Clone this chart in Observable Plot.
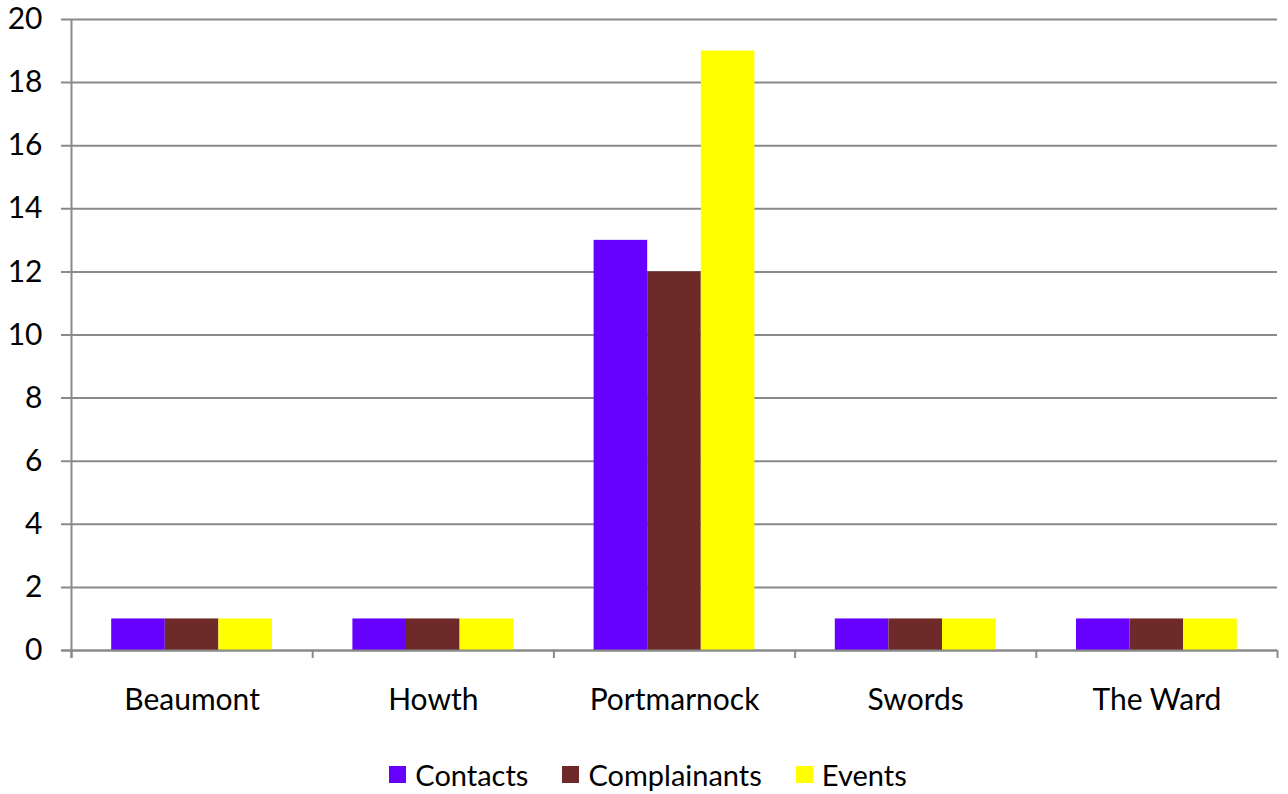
<!DOCTYPE html>
<html><head><meta charset="utf-8">
<script src="https://cdn.jsdelivr.net/npm/d3@7"></script>
<script src="https://cdn.jsdelivr.net/npm/@observablehq/plot@0.6"></script>
<style>
body{margin:0;background:#fff;font-family:Lato,"Open Sans",sans-serif;}
#legend{display:flex;justify-content:center;align-items:center;height:64px;margin-top:12px;font-size:29px;color:#000;padding-left:8px;}
#legend .it{display:flex;align-items:center;margin:0 17px;}
#legend .sw{width:17px;height:17px;margin-right:9px;}
</style></head><body>
<div id="chart"></div>
<div id="legend"></div>
<script>
const categories = ["Beaumont", "Howth", "Portmarnock", "Swords", "The Ward"];
const seriesNames = ["Contacts", "Complainants", "Events"];
const contacts = [1, 1, 13, 1, 1];
const complainants = [1, 1, 12, 1, 1];
const events = [1, 1, 19, 1, 1];
const colors = ["#6600FF", "#6E2A28", "#FFFF00"];
const yTicks = [0, 2, 4, 6, 8, 10, 12, 14, 16, 18, 20];

const values = [contacts, complainants, events];
const groupStart = 1 / 6, barW = (2 / 3) / 3;
const rows = [];
categories.forEach((c, i) => {
  seriesNames.forEach((s, j) => {
    rows.push({category: c, series: s, value: values[j][i],
      x1: i + groupStart + j * barW, x2: i + groupStart + (j + 1) * barW});
  });
});
const boundaries = d3.range(categories.length + 1);
const grid = "#8a8a8a";

const chart = Plot.plot({
  width: 1288, height: 730,
  marginTop: 19, marginBottom: 80, marginLeft: 71, marginRight: 11,
  style: {fontFamily: "Lato, 'Open Sans', sans-serif", fontSize: "30px", color: "#000", background: "#fff", overflow: "visible"},
  x: {domain: [0, categories.length], axis: null},
  y: {domain: [0, 20], axis: null},
  color: {domain: seriesNames, range: colors},
  marks: [
    Plot.ruleY(yTicks, {y: d => d, stroke: grid, strokeWidth: 2, insetLeft: -10}),
    Plot.axisY({ticks: yTicks, tickSize: 0, tickPadding: 29, fontSize: 30, tickFormat: d => d, stroke: "none", label: null}),
    Plot.rectY(rows, {x1: "x1", x2: "x2", y: "value", fill: "series"}),
    Plot.ruleX([0], {x: d => d, stroke: grid, strokeWidth: 2, insetBottom: -8}),
    Plot.ruleY([0], {y: d => d, stroke: grid, strokeWidth: 2, insetLeft: -10}),
    Plot.axisX({ticks: boundaries, tickSize: 8, tickFormat: () => "", stroke: grid, strokeWidth: 2, strokeOpacity: 1, label: null}),
    Plot.text(categories, {x: (d, i) => i + 0.5, text: d => d, frameAnchor: "bottom", dy: 50, fontSize: 30, fill: "#000", lineAnchor: "middle"})
  ]
});
document.getElementById("chart").appendChild(chart);

const legend = document.getElementById("legend");
seriesNames.forEach((s, j) => {
  const it = document.createElement("div"); it.className = "it";
  const sw = document.createElement("div"); sw.className = "sw"; sw.style.background = colors[j];
  const t = document.createElement("span"); t.textContent = s;
  it.appendChild(sw); it.appendChild(t); legend.appendChild(it);
});
</script></body></html>
